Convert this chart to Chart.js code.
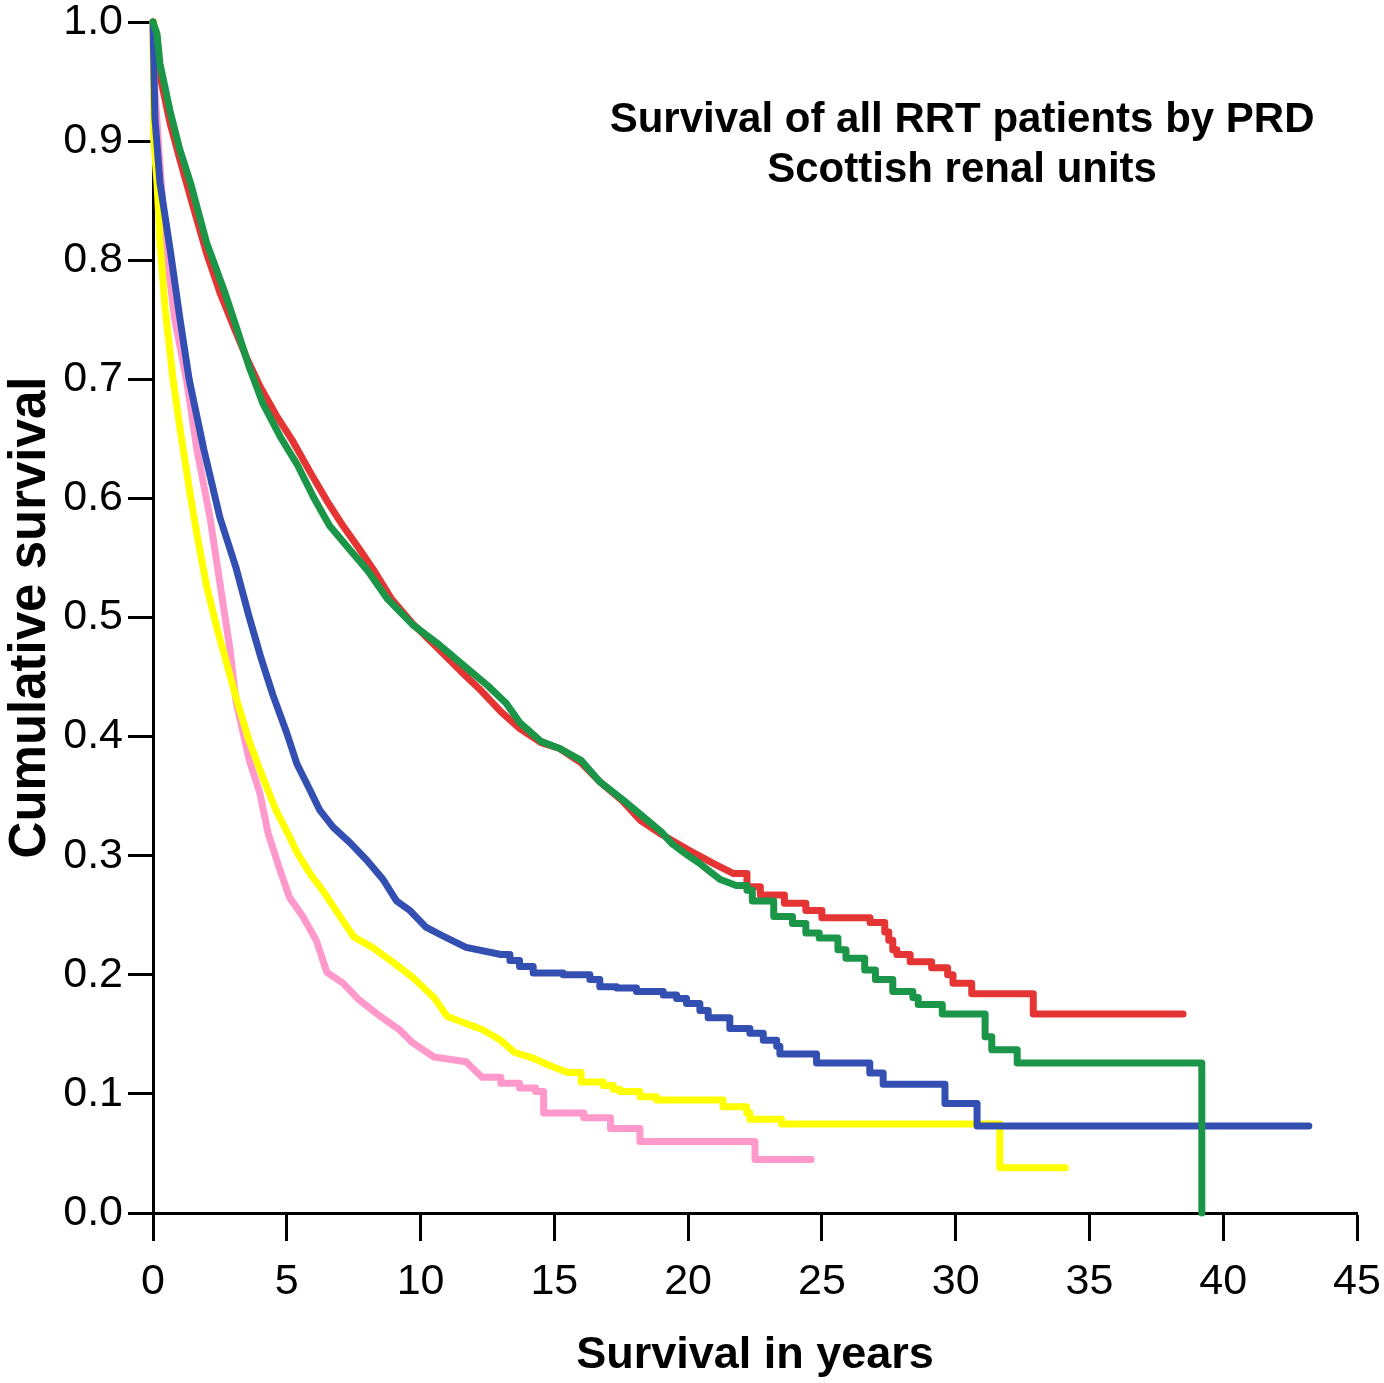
<!DOCTYPE html>
<html>
<head>
<meta charset="utf-8">
<script src="https://cdn.jsdelivr.net/npm/chart.js@4.4.1/dist/chart.umd.min.js"></script>
<style>
  body { margin: 0; background: #fff; }
  #wrap { width: 1384px; height: 1383px; }
</style>
</head>
<body>
<div id="wrap"><canvas id="survivalChart"></canvas></div>
<script>
// Survival values: year of each drop and survival after it
const redYears = [0, 0.15, 0.26, 0.64, 1.0, 1.5, 2.0, 2.5, 3.0, 3.5, 4.0, 4.6, 5.2, 5.9, 6.5, 7.1, 7.7, 8.3, 8.9, 9.7,
  10.7, 11.5, 12.2, 13.0, 13.7, 14.5, 15.2, 16.0, 16.7, 17.5, 18.2, 19.0, 20.0, 20.9, 21.7, 22.2, 22.7, 23.6, 24.4, 25.0,
  26.8, 27.35, 27.5, 27.65, 27.8, 28.3, 29.1, 29.7, 29.9, 30.6, 32.9, 38.5];
const redSurv = [1.0, 0.98, 0.955, 0.915, 0.885, 0.845, 0.806, 0.773, 0.745, 0.718, 0.694, 0.670, 0.649, 0.621, 0.598, 0.577, 0.558, 0.538, 0.516, 0.495,
  0.473, 0.455, 0.440, 0.421, 0.407, 0.395, 0.390, 0.378, 0.362, 0.347, 0.330, 0.318, 0.305, 0.294, 0.285, 0.274, 0.267, 0.260, 0.254, 0.248,
  0.244, 0.236, 0.229, 0.221, 0.217, 0.211, 0.206, 0.200, 0.193, 0.184, 0.167, 0.167];

const greenYears = [0, 0.15, 0.26, 0.64, 1.0, 1.4, 2.0, 2.7, 3.2, 3.6, 4.1, 4.75, 5.4, 6.0, 6.6, 7.35, 8.0, 8.75, 9.7, 10.7,
  11.7, 12.5, 13.2, 13.7, 14.5, 15.2, 16.0, 16.7, 17.5, 18.2, 19.0, 19.4, 20.0, 20.4, 20.8, 21.2, 21.8, 22.2, 22.4, 23.2,
  23.9, 24.4, 24.9, 25.6, 25.9, 26.6, 27.0, 27.65, 28.4, 28.6, 29.5, 31.1, 31.35, 32.3, 39.2];
const greenSurv = [1.0, 0.99, 0.965, 0.925, 0.893, 0.865, 0.815, 0.772, 0.738, 0.710, 0.680, 0.652, 0.628, 0.601, 0.577, 0.557, 0.540, 0.516, 0.494, 0.477,
  0.458, 0.443, 0.428, 0.412, 0.396, 0.390, 0.380, 0.362, 0.348, 0.335, 0.320, 0.310, 0.300, 0.294, 0.287, 0.280, 0.275, 0.271, 0.262, 0.249,
  0.243, 0.235, 0.231, 0.221, 0.214, 0.204, 0.196, 0.186, 0.181, 0.175, 0.167, 0.148, 0.137, 0.126, 0.0];

const blueYears = [0, 0.07, 0.26, 0.64, 1.0, 1.35, 1.9, 2.5, 3.1, 3.6, 4.05, 4.48, 5.0, 5.38, 5.87, 6.24, 6.73, 7.36, 8.0, 8.6,
  9.1, 9.6, 10.2, 10.8, 11.7, 13.0, 13.34, 13.7, 14.21, 15.33, 16.33, 16.7, 17.33, 18.07, 19.07, 19.57, 19.94, 20.44, 20.75, 21.56,
  22.31, 22.81, 23.31, 23.43, 24.8, 26.79, 27.29, 29.6, 30.8, 43.2];
const blueSurv = [1.0, 0.92, 0.865, 0.809, 0.752, 0.70, 0.641, 0.584, 0.542, 0.50, 0.465, 0.435, 0.403, 0.377, 0.355, 0.338, 0.324, 0.311, 0.296, 0.280,
  0.262, 0.254, 0.240, 0.233, 0.223, 0.217, 0.212, 0.207, 0.2015, 0.200, 0.196, 0.190, 0.189, 0.186, 0.183, 0.180, 0.176, 0.170, 0.164, 0.155,
  0.151, 0.145, 0.140, 0.1335, 0.126, 0.1175, 0.108, 0.092, 0.073, 0.073];

const yellowYears = [0, 0.03, 0.15, 0.26, 0.45, 0.75, 1.0, 1.38, 1.64, 2.0, 2.4, 2.8, 3.1, 3.6, 4.1, 4.6, 5.1, 5.4, 5.87, 6.4,
  6.9, 7.5, 8.2, 9.0, 9.7, 10.5, 11.0, 12.3, 13.0, 13.5, 14.2, 14.8, 15.5, 16.0, 16.83, 17.2, 17.45, 18.2, 18.82, 21.31,
  22.19, 22.31, 23.49, 31.65, 34.1];
const yellowSurv = [1.0, 0.90, 0.865, 0.815, 0.76, 0.70, 0.66, 0.605, 0.570, 0.527, 0.490, 0.458, 0.433, 0.396, 0.366, 0.338, 0.316, 0.302, 0.285, 0.269,
  0.252, 0.232, 0.223, 0.210, 0.198, 0.181, 0.165, 0.154, 0.145, 0.135, 0.130, 0.124, 0.118, 0.110, 0.107, 0.104, 0.102, 0.0977, 0.0949, 0.0892,
  0.084, 0.0787, 0.0747, 0.038, 0.038];

const pinkYears = [0, 0.05, 0.26, 0.5, 0.8, 1.27, 1.64, 2.13, 2.5, 2.88, 3.1, 3.6, 4.0, 4.3, 4.7, 5.1, 5.6, 6.1, 6.5, 7.1,
  7.7, 8.5, 9.2, 9.7, 10.5, 11.7, 12.3, 13.0, 13.7, 14.3, 14.6, 16.1, 17.1, 18.2, 22.5, 24.6];
const pinkSurv = [1.0, 0.95, 0.88, 0.809, 0.752, 0.697, 0.641, 0.584, 0.529, 0.473, 0.430, 0.380, 0.352, 0.319, 0.291, 0.265, 0.249, 0.229, 0.202, 0.193,
  0.179, 0.165, 0.154, 0.143, 0.131, 0.127, 0.114, 0.109, 0.105, 0.102, 0.084, 0.080, 0.071, 0.060, 0.045, 0.045];

const xTicksMax = 45;
const yTicksMax = 1.0;

// Early parts are dense enough to draw as a curve, later drops drawn as stairs
function toPoints(years, surv, stairsFrom) {
  const pts = [];
  years.forEach((t, i) => {
    if (i > 0 && t > stairsFrom) pts.push({ x: t, y: surv[i - 1] });
    pts.push({ x: t, y: surv[i] });
  });
  return pts;
}

function line(label, pts, color) {
  return {
    label: label,
    data: pts,
    borderColor: color,
    backgroundColor: color,
    borderWidth: 7,
    pointRadius: 0,
    borderCapStyle: "round",
    borderJoinStyle: "round",
    fill: false,
    tension: 0,
    clip: false,
  };
}

// Title drawn inside the plot area
const titlePlugin = {
  id: "insideTitle",
  afterDraw(chart) {
    const { ctx, chartArea } = chart;
    const cx = chartArea.left + 0.672 * (chartArea.right - chartArea.left);
    ctx.save();
    ctx.fillStyle = "#000";
    ctx.font = "bold 42px 'Liberation Sans', Arial, sans-serif";
    ctx.textAlign = "center";
    ctx.textBaseline = "middle";
    ctx.fillText("Survival of all RRT patients by PRD", cx, chartArea.top + 98);
    ctx.fillText("Scottish renal units", cx, chartArea.top + 148);
    ctx.restore();
  },
};

const tickFont = { family: "'Liberation Sans Narrow', 'Arial Narrow', 'Liberation Sans', Arial, sans-serif", size: 43 };

new Chart(document.getElementById("survivalChart").getContext("2d"), {
  type: "line",
  data: {
    datasets: [
      line("Green", toPoints(greenYears, greenSurv, 22), "#1B9648"),
      line("Blue", toPoints(blueYears, blueSurv, 13), "#344FB2"),
      line("Yellow", toPoints(yellowYears, yellowSurv, 15.8), "#FFFF00"),
      line("Red", toPoints(redYears, redSurv, 22), "#E53434"),
      line("Pink", toPoints(pinkYears, pinkSurv, 12.9), "#FF99CC"),
    ],
  },
  options: {
    responsive: true,
    maintainAspectRatio: false,
    animation: false,
    layout: { padding: { left: 0, right: 27, top: 22, bottom: 0 } },
    plugins: {
      legend: { display: false },
      tooltip: { enabled: false },
    },
    scales: {
      x: {
        type: "linear",
        min: 0,
        max: xTicksMax,
        afterFit(scale) {
          scale.height = 170;
          scale.paddingLeft = 0;
          scale.paddingRight = 0;
        },
        border: { display: true, color: "#000", width: 3 },
        grid: { display: true, drawOnChartArea: false, drawTicks: true, tickLength: 28, tickWidth: 3, tickColor: "#000" },
        ticks: { stepSize: 5, autoSkip: false, maxRotation: 0, color: "#000", font: tickFont, padding: 15 },
        title: {
          display: true,
          text: "Survival in years",
          color: "#000",
          font: { family: "'Liberation Sans', Arial, sans-serif", size: 45, weight: "bold" },
          padding: { top: 0, bottom: 0 },
        },
      },
      y: {
        type: "linear",
        min: 0,
        max: yTicksMax,
        afterFit(scale) {
          scale.width = 153;
          scale.paddingTop = 0;
          scale.paddingBottom = 0;
        },
        border: { display: true, color: "#000", width: 3 },
        grid: { display: true, drawOnChartArea: false, drawTicks: true, tickLength: 25, tickWidth: 3, tickColor: "#000" },
        ticks: {
          stepSize: 0.1,
          color: "#000",
          font: tickFont,
          padding: 5,
          callback: (v) => v.toFixed(1),
        },
        title: {
          display: true,
          text: "Cumulative survival",
          color: "#000",
          font: { family: "'Liberation Sans', Arial, sans-serif", size: 51, weight: "bold" },
          padding: { top: 0, bottom: 0 },
        },
      },
    },
  },
  plugins: [titlePlugin],
});
</script>
</body>
</html>
